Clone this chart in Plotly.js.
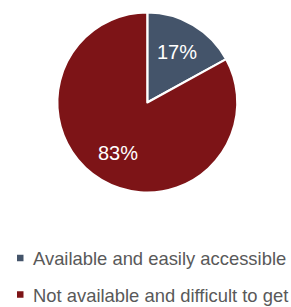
<!DOCTYPE html>
<html><head><meta charset="utf-8">
<script src="https://cdn.plot.ly/plotly-3.0.1.min.js"></script>
<style>html,body{margin:0;padding:0;background:#fff;}#chart{width:291px;height:307px;}</style>
</head><body><div id="chart"></div>
<script>
const labels = ["Available and easily accessible", "Not available and difficult to get"];
const values = [17, 83];
const colors = ["#44546A", "#7D1417"];

const W = 291, H = 307;
const fontFam = '"Liberation Sans", Arial, sans-serif';
// pie geometry in pixels
const cx = 147.3, cy = 102.5, R = 90;
const px = x => x / W;
const py = y => 1 - y / H;

const total = values.reduce((a, b) => a + b, 0);
const annotations = [];
const shapes = [];
let cum = 0;
values.forEach((v, i) => {
  const mid = (cum + v / 2) / total * 2 * Math.PI; // clockwise from 12 o'clock
  cum += v;
  const r = R * 0.65;
  annotations.push({
    xref: 'paper', yref: 'paper',
    x: px(cx + r * Math.sin(mid)), y: py(cy - r * Math.cos(mid)),
    xanchor: 'center', yanchor: 'middle', showarrow: false,
    text: Math.round(v / total * 100) + '%',
    font: {family: fontFam, size: 20, color: '#ffffff'}
  });
});

// legend (below the pie)
const legendTop = 258, legendGap = 36.5;
labels.forEach((lab, i) => {
  const yc = legendTop + i * legendGap;
  shapes.push({
    type: 'rect', xref: 'paper', yref: 'paper',
    x0: px(17), x1: px(23.5), y0: py(yc - 3.25), y1: py(yc + 3.25),
    fillcolor: colors[i], line: {width: 0}
  });
  annotations.push({
    xref: 'paper', yref: 'paper',
    x: px(31), y: py(yc + 0.5), xanchor: 'left', yanchor: 'middle', showarrow: false,
    text: lab,
    font: {family: fontFam, size: 18.4, color: '#595959'}
  });
});

Plotly.newPlot('chart', [{
  type: 'pie',
  labels: labels,
  values: values,
  sort: false,
  direction: 'clockwise',
  rotation: 0,
  marker: {colors: colors, line: {color: '#ffffff', width: 2.2}},
  textinfo: 'none',
  hoverinfo: 'none',
  showlegend: false,
  domain: {x: [px(cx - R), px(cx + R)], y: [py(cy + R), py(cy - R)]}
}], {
  width: W, height: H,
  margin: {l: 0, r: 0, t: 0, b: 0},
  paper_bgcolor: '#ffffff',
  showlegend: false,
  annotations: annotations,
  shapes: shapes
}, {staticPlot: true});
</script></body></html>
